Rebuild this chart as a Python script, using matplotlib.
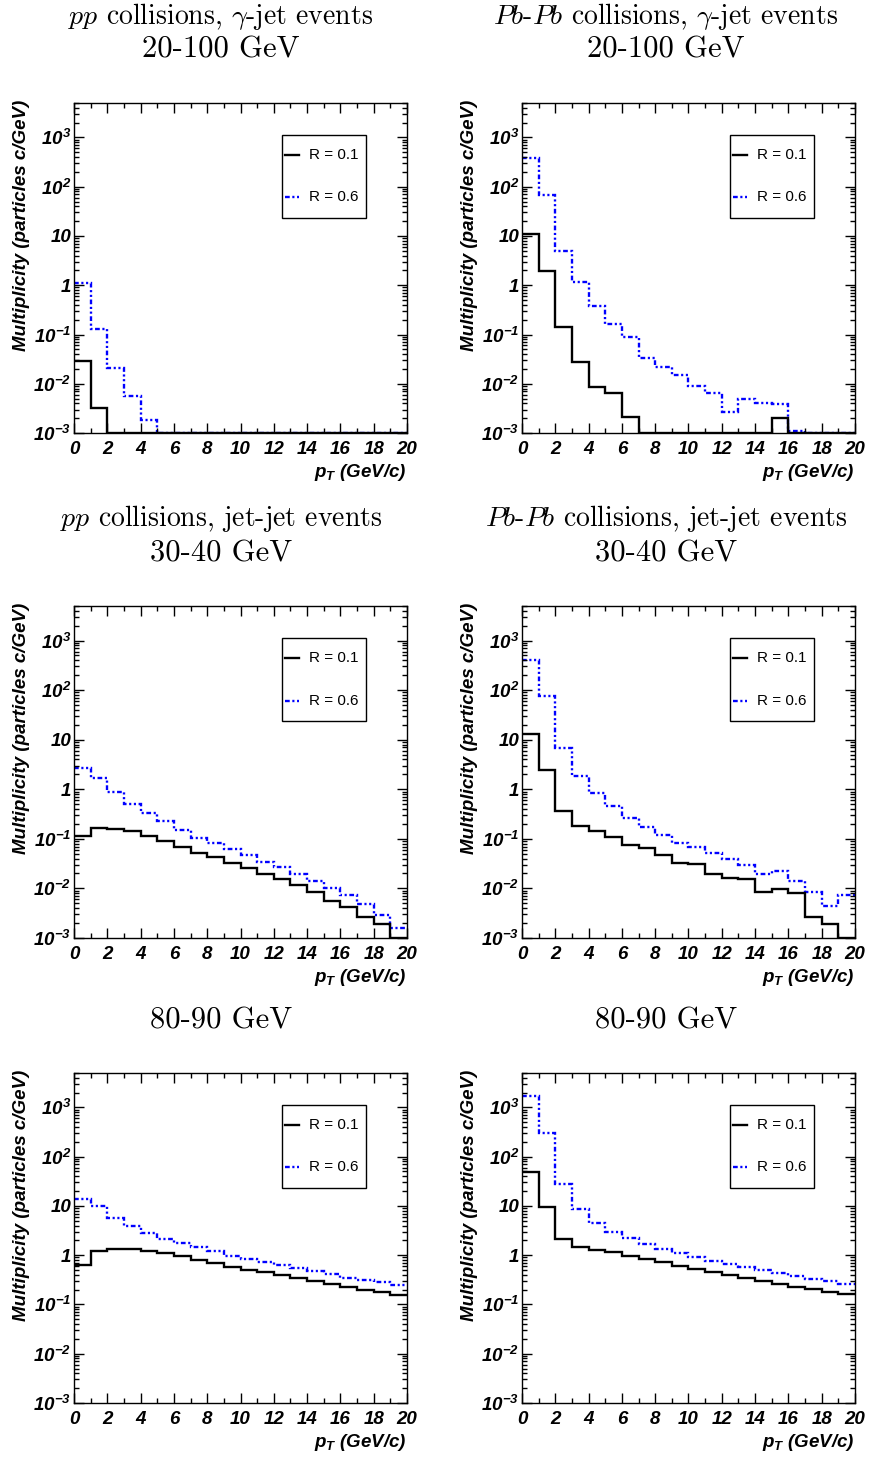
# Multiplicidade de particulas em funcao de pT
# para jatos com R = 0.1 e R = 0.6 (pp e Pb-Pb)

import numpy as np
import matplotlib
matplotlib.use("Agg")
import matplotlib.pyplot as plt
from matplotlib.ticker import LogLocator, MultipleLocator, NullFormatter
from matplotlib.patches import Rectangle

# bordas dos bins em pT (GeV/c)
bordas = np.arange(0, 21)

# pp, gamma-jet, 20-100 GeV (0 = bin vazio)
pp_gj_r01 = [0.029, 0.0032, 0, 0, 0, 0, 0, 0, 0, 0, 0, 0, 0, 0, 0, 0, 0, 0, 0, 0]
pp_gj_r06 = [1.11, 0.128, 0.021, 0.0056, 0.0018, 0, 0, 0, 0, 0, 0, 0, 0, 0, 0, 0, 0, 0, 0, 0]

# Pb-Pb, gamma-jet, 20-100 GeV
pbpb_gj_r01 = [11.0, 1.92, 0.139, 0.0275, 0.0085, 0.0066, 0.0021, 0, 0, 0,
               0, 0, 0, 0, 0, 0.0020, 0, 0, 0, 0]
pbpb_gj_r06 = [390, 69, 5.0, 1.15, 0.375, 0.164, 0.090, 0.0337, 0.0221, 0.0152,
               0.0090, 0.0066, 0.0027, 0.0048, 0.0041, 0.0038, 0.0011, 0, 0, 0]

# pp, jet-jet, 30-40 GeV
pp_jj30_r01 = [0.114, 0.166, 0.160, 0.146, 0.114, 0.089, 0.067, 0.0526, 0.043, 0.032,
               0.0258, 0.0195, 0.0152, 0.0119, 0.0085, 0.0056, 0.0042, 0.0027, 0.0019, 0]
pp_jj30_r06 = [2.74, 1.69, 0.90, 0.51, 0.333, 0.23, 0.153, 0.106, 0.081, 0.0615,
               0.0466, 0.0347, 0.027, 0.0192, 0.0139, 0.0102, 0.0072, 0.0048, 0.0029, 0.00162]

# Pb-Pb, jet-jet, 30-40 GeV
pbpb_jj30_r01 = [12.9, 2.46, 0.365, 0.182, 0.144, 0.109, 0.075, 0.0654, 0.0472, 0.033,
                 0.0316, 0.0199, 0.0161, 0.0158, 0.0086, 0.0099, 0.0082, 0.0026, 0.0019, 0]
pbpb_jj30_r06 = [410, 76.6, 6.7, 1.86, 0.83, 0.46, 0.26, 0.174, 0.118, 0.081,
                 0.0685, 0.051, 0.0387, 0.0292, 0.0199, 0.0221, 0.0141, 0.0085, 0.0044, 0.0074]

# pp, jet-jet, 80-90 GeV
pp_jj80_r01 = [0.63, 1.2, 1.36, 1.34, 1.24, 1.11, 0.955, 0.817, 0.70, 0.589,
               0.51, 0.452, 0.393, 0.342, 0.297, 0.254, 0.221, 0.201, 0.175, 0.157]
pp_jj80_r06 = [13.9, 9.8, 5.7, 3.87, 2.84, 2.18, 1.78, 1.45, 1.2, 0.98,
               0.84, 0.72, 0.62, 0.545, 0.467, 0.406, 0.347, 0.311, 0.284, 0.243]

# Pb-Pb, jet-jet, 80-90 GeV
pbpb_jj80_r01 = [48.9, 9.7, 2.11, 1.5, 1.3, 1.15, 0.985, 0.83, 0.73, 0.61,
                 0.52, 0.46, 0.40, 0.352, 0.302, 0.258, 0.224, 0.205, 0.18, 0.16]
pbpb_jj80_r06 = [1700, 306, 27.5, 8.8, 4.6, 2.97, 2.2, 1.72, 1.32, 1.1,
                 0.925, 0.77, 0.667, 0.58, 0.49, 0.43, 0.375, 0.327, 0.302, 0.254]

# rotulos
rotulos_y = ["$10^{-3}$", "$10^{-2}$", "$10^{-1}$", "1", "10", "$10^{2}$", "$10^{3}$"]
valores_y = [1e-3, 1e-2, 1e-1, 1, 10, 1e2, 1e3]
legendas = ["R = 0.1", "R = 0.6"]
titulo_y = "Multiplicity (particles c/GeV)"
titulo_x = "$p_T$ (GeV/c)"

YMIN, YMAX = 1e-3, 5e3
AZUL = "#0000ff"
ESTILO_AZUL = (0, (2, 1.1, 0.9, 1.1, 0.9, 1.1))

plt.rcParams["mathtext.fontset"] = "custom"
plt.rcParams["mathtext.rm"] = "Liberation Sans:bold:italic"
plt.rcParams["mathtext.it"] = "Liberation Sans:bold:italic"
plt.rcParams["mathtext.bf"] = "Liberation Sans:bold:italic"
plt.rcParams["font.family"] = "Liberation Sans"

fig = plt.figure(figsize=(8.71, 14.59), dpi=100)

# posicoes dos paineis (fracao da figura)
x_esq, x_dir, larg = 0.0850, 0.5993, 0.3823
linhas = [(0.7032, 0.2262), (0.3571, 0.2276), (0.0384, 0.2262)]

paineis = [
    (0, 0, pp_gj_r01, pp_gj_r06),
    (0, 1, pbpb_gj_r01, pbpb_gj_r06),
    (1, 0, pp_jj30_r01, pp_jj30_r06),
    (1, 1, pbpb_jj30_r01, pbpb_jj30_r06),
    (2, 0, pp_jj80_r01, pp_jj80_r06),
    (2, 1, pbpb_jj80_r01, pbpb_jj80_r06),
]


def desenha_painel(ax, r01, r06):
    # bins vazios ficam na base do eixo, como no ROOT
    v01 = np.clip(np.array(r01, dtype=float), YMIN, None)
    v06 = np.clip(np.array(r06, dtype=float), YMIN, None)
    ax.stairs(v06, bordas, baseline=None, color=AZUL, lw=1.7, linestyle=ESTILO_AZUL)
    ax.stairs(v01, bordas, baseline=None, color="black", lw=1.7)

    ax.set_yscale("log")
    ax.set_xlim(0, 20)
    ax.set_ylim(YMIN, YMAX)
    ax.set_yticks(valores_y, rotulos_y)
    ax.yaxis.set_minor_locator(LogLocator(base=10, subs=np.arange(2, 10), numticks=20))
    ax.yaxis.set_minor_formatter(NullFormatter())
    ax.set_xticks(np.arange(0, 21, 2))
    ax.xaxis.set_minor_locator(MultipleLocator(1))

    ax.tick_params(which="both", direction="in", top=True, right=True, width=1.0)
    ax.tick_params(which="major", length=7.5, labelsize=13.5)
    ax.tick_params(which="minor", length=3.5)
    ax.tick_params(axis="x", which="major", pad=6)
    ax.tick_params(axis="y", which="major", pad=2)
    for lbl in ax.get_xticklabels() + ax.get_yticklabels():
        lbl.set_fontweight("bold")
        lbl.set_fontstyle("italic")
    for sp in ax.spines.values():
        sp.set_linewidth(1.0)

    ax.text(-0.158, 1.01, titulo_y, rotation=90, ha="center", va="top",
            fontsize=13.5, fontweight="bold", fontstyle="italic", transform=ax.transAxes)
    ax.text(1.0, -0.12, titulo_x, ha="right", va="center",
            fontsize=13.5, fontweight="bold", fontstyle="italic", transform=ax.transAxes)

    # legenda no estilo ROOT
    ax.add_patch(Rectangle((0.625, 0.652), 0.252, 0.251, transform=ax.transAxes,
                           fill=False, lw=1.0, edgecolor="black", zorder=5))
    ax.plot([0.633, 0.677], [0.842, 0.842], color="black", lw=1.7, transform=ax.transAxes)
    ax.plot([0.633, 0.677], [0.715, 0.715], color=AZUL, lw=1.7, linestyle=ESTILO_AZUL,
            transform=ax.transAxes)
    ax.text(0.705, 0.842, legendas[0], fontsize=11, va="center", transform=ax.transAxes)
    ax.text(0.705, 0.715, legendas[1], fontsize=11, va="center", transform=ax.transAxes)


for lin, col, r01, r06 in paineis:
    y0, alt = linhas[lin]
    x0 = x_esq if col == 0 else x_dir
    ax = fig.add_axes([x0, y0, larg, alt])
    desenha_painel(ax, r01, r06)

# titulos em Computer Modern
cx = [0.2537, 0.7646]
tit = dict(fontfamily="cmr10", math_fontfamily="cm", ha="center", va="center")
fig.text(cx[0], 0.989, r"$pp$ collisions, $\gamma$-jet events", fontsize=20, **tit)
fig.text(cx[1], 0.989, r"$Pb$-$Pb$ collisions, $\gamma$-jet events", fontsize=20, **tit)
fig.text(cx[0], 0.9657, "20-100 GeV", fontsize=22, **tit)
fig.text(cx[1], 0.9657, "20-100 GeV", fontsize=22, **tit)
fig.text(cx[0], 0.6443, r"$pp$ collisions, jet-jet events", fontsize=20, **tit)
fig.text(cx[1], 0.6443, r"$Pb$-$Pb$ collisions, jet-jet events", fontsize=20, **tit)
fig.text(cx[0], 0.6203, "30-40 GeV", fontsize=22, **tit)
fig.text(cx[1], 0.6203, "30-40 GeV", fontsize=22, **tit)
fig.text(cx[0], 0.3002, "80-90 GeV", fontsize=22, **tit)
fig.text(cx[1], 0.3002, "80-90 GeV", fontsize=22, **tit)

fig.savefig("out.png", dpi=100)
